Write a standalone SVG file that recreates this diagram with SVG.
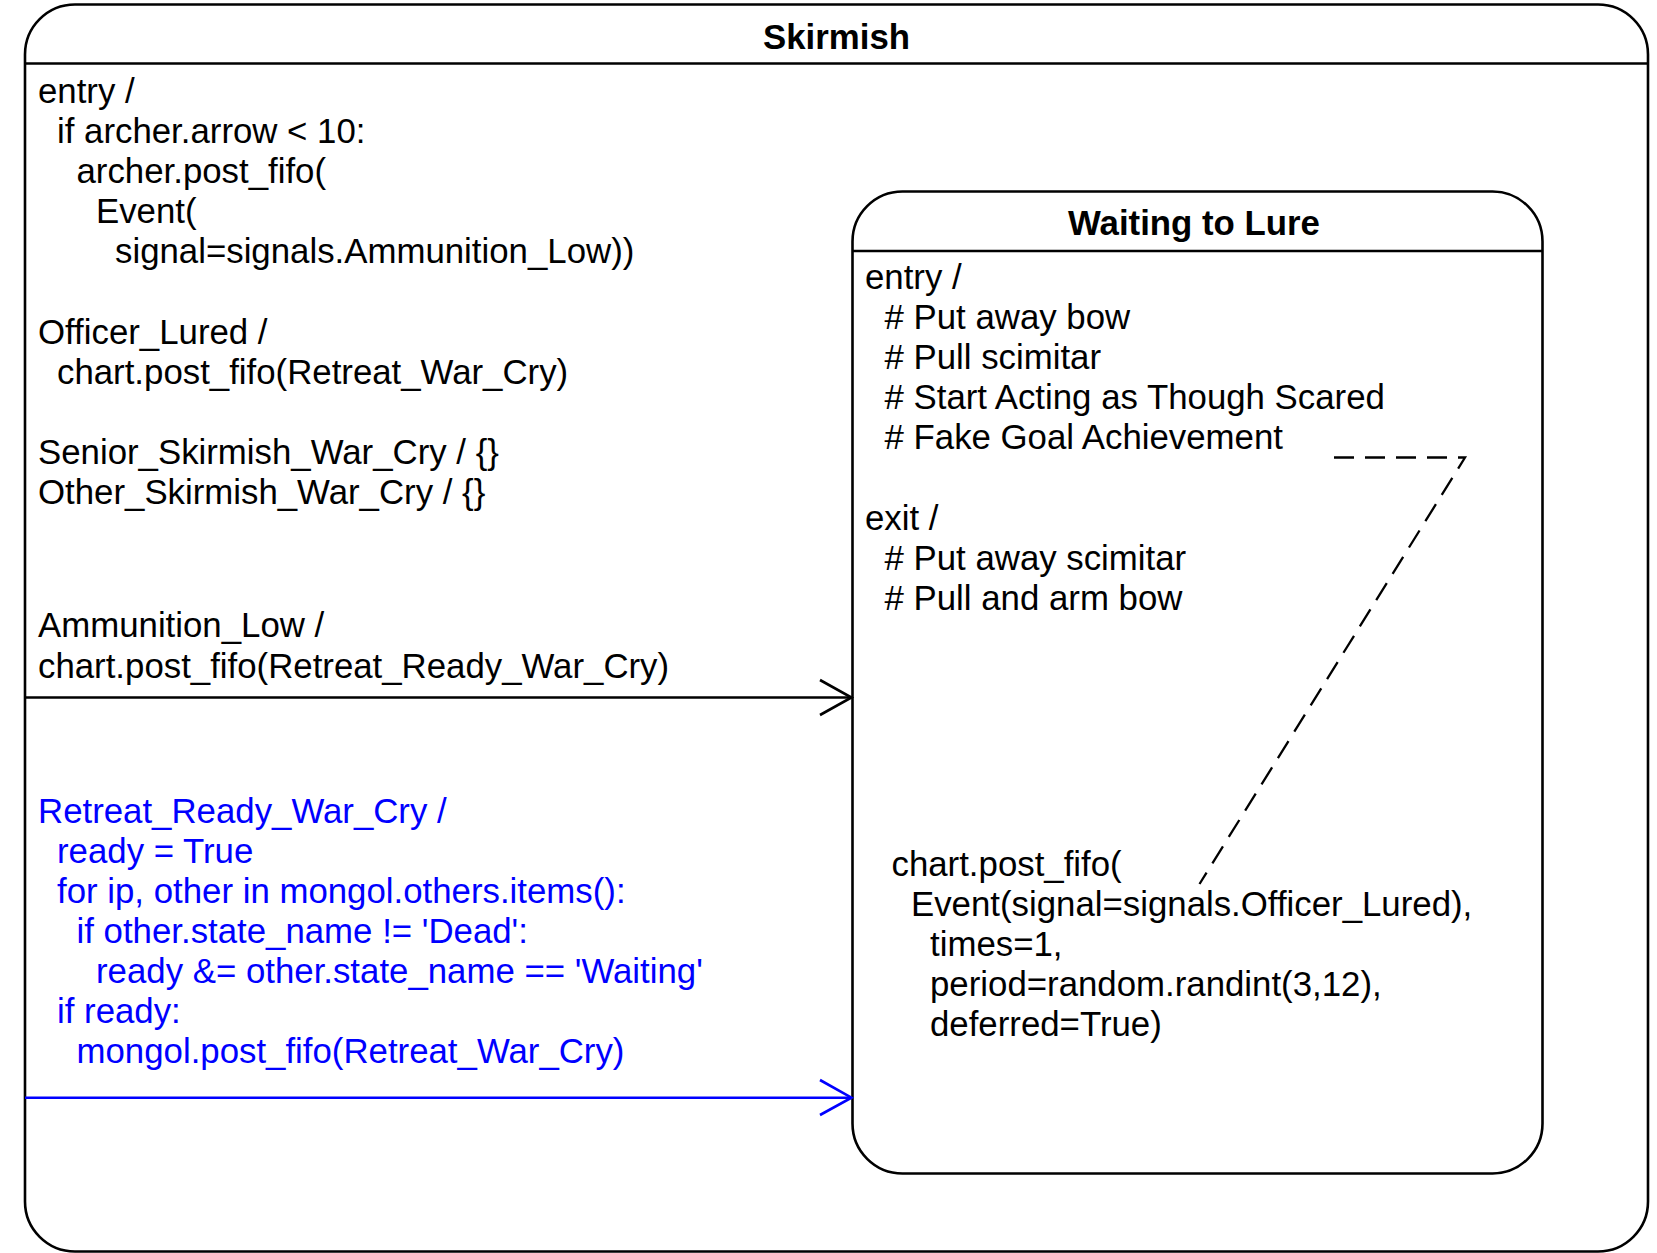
<svg xmlns="http://www.w3.org/2000/svg" width="1657" height="1253" viewBox="0 0 1657 1253">
<style>
.box{fill:#fff;stroke:#000;stroke-width:2.6}
.hdr{stroke:#000;stroke-width:2.6}
.t{font-family:"Liberation Sans",Arial,sans-serif;font-size:34.8px;fill:#000}
.title{font-family:"Liberation Sans",Arial,sans-serif;font-size:34.8px;font-weight:bold;fill:#000;text-anchor:middle}
.blue{fill:#0000ff}
.conn{fill:none;stroke-width:2.6}
.note{fill:none;stroke:#000;stroke-width:2.3;stroke-dasharray:20 11}
</style>
<rect width="1657" height="1253" fill="#fff"/>
<g id="skirmish">
<rect class="box" x="25" y="4.5" width="1623" height="1247" rx="50" ry="50"/>
<line class="hdr" x1="25" y1="63.5" x2="1648" y2="63.5"/>
<text class="title" x="836.5" y="49">Skirmish</text>
<text class="t" x="38" y="103">entry /</text>
<text class="t" x="57" y="143">if archer.arrow &lt; 10:</text>
<text class="t" x="76.5" y="183">archer.post_fifo(</text>
<text class="t" x="96" y="223">Event(</text>
<text class="t" x="115" y="263">signal=signals.Ammunition_Low))</text>
<text class="t" x="38" y="343.5">Officer_Lured /</text>
<text class="t" x="57" y="383.5">chart.post_fifo(Retreat_War_Cry)</text>
<text class="t" x="38" y="463.5">Senior_Skirmish_War_Cry / {}</text>
<text class="t" x="38" y="503.5">Other_Skirmish_War_Cry / {}</text>
</g>
<g id="waiting_to_lure">
<rect class="box" x="852.5" y="191.5" width="690" height="982" rx="50" ry="50"/>
<line class="hdr" x1="852.5" y1="251" x2="1542.5" y2="251"/>
<text class="title" x="1194" y="235">Waiting to Lure</text>
<text class="t" x="865" y="288.5">entry /</text>
<text class="t" x="884.5" y="328.5"># Put away bow</text>
<text class="t" x="884.5" y="368.5"># Pull scimitar</text>
<text class="t" x="884.5" y="408.5"># Start Acting as Though Scared</text>
<text class="t" x="884.5" y="448.5"># Fake Goal Achievement</text>
<text class="t" x="865" y="529.5">exit /</text>
<text class="t" x="884.5" y="569.5"># Put away scimitar</text>
<text class="t" x="884.5" y="609.5"># Pull and arm bow</text>
</g>
<g id="note">
<text class="t" x="891.5" y="875.5">chart.post_fifo(</text>
<text class="t" x="911" y="915.5">Event(signal=signals.Officer_Lured),</text>
<text class="t" x="930" y="955.5">times=1,</text>
<text class="t" x="930" y="995.5">period=random.randint(3,12),</text>
<text class="t" x="930" y="1035.5">deferred=True)</text>
</g>
<g id="connectors">
<polyline class="note" points="1334,457.5 1465,457.5 1199.5,884"/>
<g id="ammunition_low">
<line class="conn" stroke="#000" x1="25" y1="697.5" x2="851" y2="697.5"/>
<polyline class="conn" stroke="#000" points="820,680 851.5,697.5 820,715"/>
<text class="t" x="38" y="636.5">Ammunition_Low /</text>
<text class="t" x="38" y="677.5">chart.post_fifo(Retreat_Ready_War_Cry)</text>
</g>
<g id="retreat_ready">
<line class="conn" stroke="#0000ff" x1="25" y1="1097.7" x2="851" y2="1097.7"/>
<polyline class="conn" stroke="#0000ff" points="820,1080 851.5,1097.7 820,1115"/>
<text class="t blue" x="38" y="823">Retreat_Ready_War_Cry /</text>
<text class="t blue" x="57" y="863">ready = True</text>
<text class="t blue" x="57" y="903">for ip, other in mongol.others.items():</text>
<text class="t blue" x="76.5" y="943">if other.state_name != 'Dead':</text>
<text class="t blue" x="96" y="983">ready &amp;= other.state_name == 'Waiting'</text>
<text class="t blue" x="57" y="1023">if ready:</text>
<text class="t blue" x="76.5" y="1063">mongol.post_fifo(Retreat_War_Cry)</text>
</g>
</g>
</svg>
